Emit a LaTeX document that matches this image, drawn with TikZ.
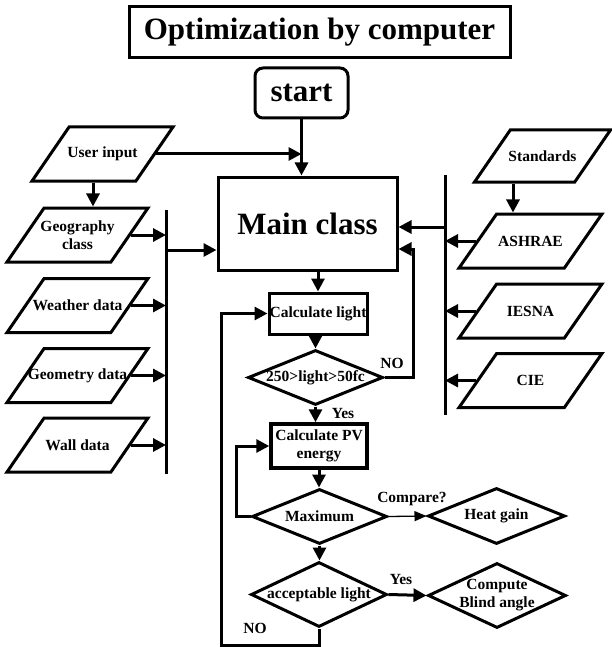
\documentclass[tikz,border=0pt]{standalone}
\usepackage{fontspec}
\setmainfont{Liberation Serif}
\usetikzlibrary{shapes.geometric,arrows.meta}
\begin{document}
\begin{tikzpicture}[x=1pt,y=-1pt,
  every node/.style={font=\bfseries},
  ln/.style={line width=3pt},
  arr/.style={line width=3pt,-{Triangle[length=13pt,width=13pt]}},
  thinarr/.style={line width=1.3pt,-{Triangle[length=12pt,width=10pt]}},
  sm/.style={font=\fontsize{15.5}{18}\selectfont\bfseries,align=center,inner sep=0pt},
  big/.style={font=\fontsize{31}{34}\selectfont\bfseries},
  para/.style={draw,line width=3pt,trapezium,trapezium left angle=61,trapezium right angle=119,
    trapezium stretches=true,minimum width=141pt,minimum height=54pt,inner sep=3pt},
  dia/.style={draw,line width=3pt,diamond,inner sep=3pt},
  box/.style={draw,line width=3pt,inner sep=0pt}]
\useasboundingbox (0,0) rectangle (611,647);

% title and start
\node[box,big,minimum width=381,minimum height=51] (title) at (319.5,32.5) {Optimization by computer};
\node[box,big,rounded corners=8pt,minimum width=93,minimum height=50] (start) at (301.5,93) {start};

% left inputs
\node[para] (user) at (102.5,154) {};
\node[para] (geo) at (77.5,235) {};
\node[para] (wea) at (77.5,305.5) {};
\node[para] (geom) at (77.5,375.5) {};
\node[para] (wall) at (77.5,445) {};
\node[sm] (userT) at (user) {User input};
\node[sm] (geoT) at (geo) {Geography\\class};
\node[sm] (weaT) at (wea) {Weather data};
\node[sm] (geomT) at (geom) {Geometry data};
\node[sm] (wallT) at (wall) {Wall data};

% right inputs
\node[para,minimum width=136pt,minimum height=52pt] (std) at (542.5,156) {};
\node[para,minimum width=143pt] (ash) at (530.5,241) {};
\node[para,minimum width=143pt] (ies) at (530.5,311) {};
\node[para,minimum width=143pt] (cie) at (530.5,380.5) {};
\node[sm] (stdT) at (std) {Standards};
\node[sm] (ashT) at (ash) {ASHRAE};
\node[sm] (iesT) at (ies) {IESNA};
\node[sm] (cieT) at (cie) {CIE};

% main flow
\node[box,big,minimum width=179,minimum height=93] (main) at (307.5,223.5) {Main class};
\node[box,sm,minimum width=98,minimum height=41] (calc) at (318,313.5) {Calculate light};
\node[dia,minimum width=135,minimum height=55] (d1) at (315.5,377.5) {};
\node[box,sm,line width=3.5pt,minimum width=96,minimum height=44] (pv) at (319,446) {Calculate PV\\energy};
\node[dia,minimum width=135,minimum height=55] (max) at (319.5,516.5) {};
\node[dia,minimum width=137,minimum height=56] (heat) at (496.5,516) {};
\node[dia,minimum width=136,minimum height=65] (acc) at (319,594.5) {};
\node[dia,minimum width=138,minimum height=65] (comp) at (497,595.5) {};
\node[sm] (d1T) at (d1) {250>light>50fc};
\node[sm] (maxT) at (max) {Maximum};
\node[sm] (heatT) at (heat) {Heat gain};
\node[sm] (accT) at (acc) {acceptable light};
\node[sm] (compT) at (comp) {Compute\\Blind angle};

% edge labels
\node[sm] (noA) at (392,363) {NO};
\node[sm] (yesA) at (343,413) {Yes};
\node[sm] (cmp) at (412,499) {Compare?};
\node[sm] (yesB) at (401,579) {Yes};
\node[sm] (noB) at (255,628) {NO};

% helper coordinates
\coordinate (ux) at (93,0);
\coordinate (sx) at (513,0);
\coordinate (lbT) at (166,210);
\coordinate (lbB) at (166,474);
\coordinate (lj) at (166,250);
\coordinate (rbT) at (445,175);
\coordinate (rbB) at (445,415);
\coordinate (rj) at (445,227);
\coordinate (nx) at (413,249);
\coordinate (bx) at (221,645);

% connectors
\draw[arr] (start.south) -- (main.north -| start.south);
\draw[arr] (user.east) -- (user.east -| start.south);
\draw[arr] (user.south -| ux) -- (geo.north -| ux);
\draw[ln] (lbT) -- (lbB);
\foreach \n in {geo,wea,geom,wall} \draw[arr] (\n.east) -- (\n.east -| lbT);
\draw[arr] (lj) -- (lj -| main.west);
\draw[ln] (rbT) -- (rbB);
\draw[arr] (std.south -| sx) -- (ash.north -| sx);
\foreach \n in {ash,ies,cie} \draw[arr] (\n.west) -- (\n.west -| rbT);
\draw[arr] (rj) -- (rj -| main.east);
\draw[arr] (main.south -| calc.north) -- (calc.north);
\draw[arr] (d1.north |- calc.south) -- (d1.north);
\draw[arr] (d1.east) -| (nx) -- (nx -| main.east);
\draw[arr] (d1.south) -- (d1.south |- pv.north);
\draw[arr] (pv.south) -- (pv.south |- max.north);
\draw[arr] (max.west) -- ++(-14,0) |- (pv.west);
\draw[thinarr] (max.east) -- (heat.west);
\draw[arr] (max.south) -- (max.south |- acc.north);
\draw[arr] (acc.east) -- (comp.west);
\draw[arr] (acc.south) |- (bx) |- (calc.west);
\end{tikzpicture}
\end{document}
